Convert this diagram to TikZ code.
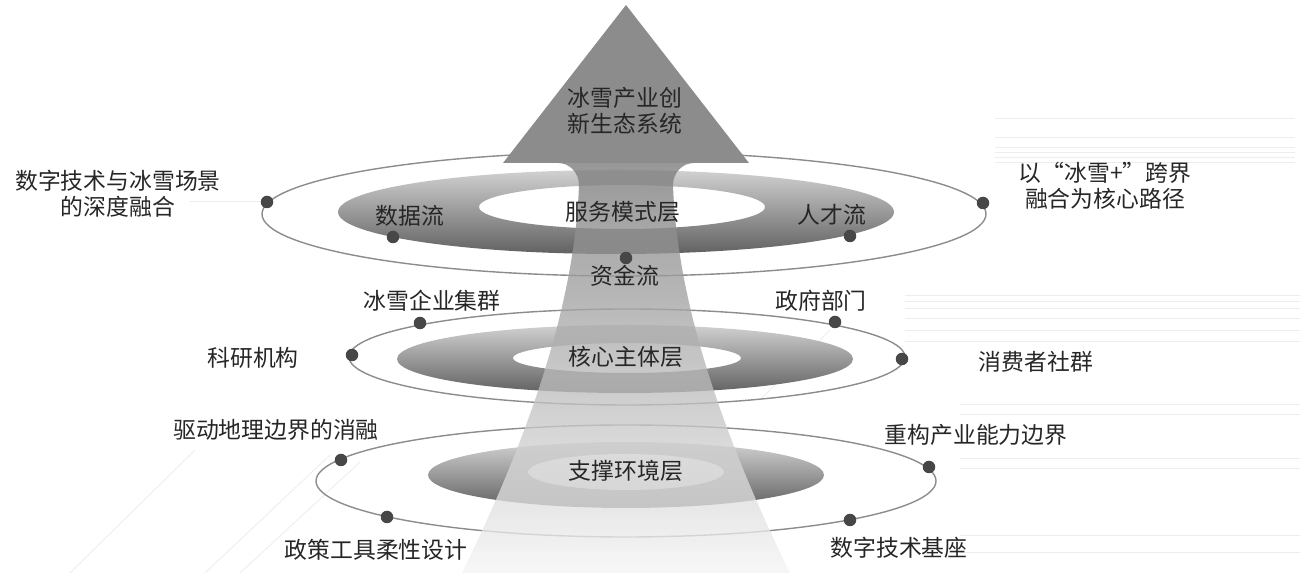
\documentclass[tikz,border=0pt]{standalone}
\usepackage{fontspec}
\newfontfamily\cjk{Noto Sans CJK SC}
\usetikzlibrary{positioning}

\begin{document}
\begin{tikzpicture}[
  x=0.02cm, y=-0.02cm,
  every node/.style={font=\cjk\fontsize{13}{15}\selectfont, text=black!85, inner sep=0pt, align=center},
  orbit/.style={draw=black!45, line width=0.8pt},
  band/.style={even odd rule, top color=black!18, bottom color=black!62},
  core/.style={top color=white, bottom color=black!22},
  shaft/.style={top color=black!52, bottom color=black!4, fill opacity=0.78},
  head/.style={fill=black!45},
  dot/.style={circle, fill=black!72, minimum size=2.5mm, inner sep=0pt},
  trace/.style={draw=black!7, line width=0.5pt},
]
  \useasboundingbox (0,0) rectangle (1302,573);
  % faint circuit traces in the background
  \foreach \yy in {118,137,147,152,157,162} {
    \draw[trace] (995,\yy) -- (1295,\yy);
  }
  \foreach \yy in {295,301,308,318,330,341} {
    \draw[trace] (905,\yy) -- (1300,\yy);
  }
  \foreach \yy in {404,414,458,468,535,552} {
    \draw[trace] (960,\yy) -- (1300,\yy);
  }
  \draw[trace] (190,201) -- (262,201);
  \draw[trace] (70,573) -- (195,450);
  \draw[trace] (205,573) -- (330,455);
  \draw[trace] (240,573) -- (360,462);
  \draw[trace] (830,330) -- (760,400);

  % outer orbits
  \draw[orbit] (624,214) ellipse [x radius=362, y radius=62];
  \draw[orbit] (627,357) ellipse [x radius=278, y radius=48];
  \draw[orbit] (626,481) ellipse [x radius=310, y radius=56];

  % layer bands
  \shade[band] (616,212) ellipse [x radius=278, y radius=42]
               (622,207) ellipse [x radius=143, y radius=22];
  \shade[band] (625,359) ellipse [x radius=228, y radius=34]
               (627,358) ellipse [x radius=114, y radius=15];
  \shade[band] (626,475) ellipse [x radius=198, y radius=33];
  \shade[core] (626,472) ellipse [x radius=98, y radius=18];

  % the arrow
  \shade[shaft] (558,163) -- (694,163) to[out=180,in=90] (673,185)
    .. controls (677,300) and (720,430) .. (790,573) -- (462,573)
    .. controls (532,430) and (575,300) .. (579,185)
    to[out=90,in=0] (558,163) -- cycle;
  \fill[head] (503,163) -- (626,5) -- (749,163) -- cycle;

  % dots on the orbits
  \node[dot] (o1l) at (267,202) {};
  \node[dot] (o1r) at (983,203) {};
  \node[dot] (data) at (393,237) {};
  \node[dot] (talent) at (850,236) {};
  \node[dot] (fund) at (626,258) {};
  \node[dot] (ent) at (420,323) {};
  \node[dot] (gov) at (835,322) {};
  \node[dot] (res) at (352,355) {};
  \node[dot] (cons) at (902,359) {};
  \node[dot] (geo) at (341,460) {};
  \node[dot] (ind) at (929,467) {};
  \node[dot] (pol) at (387,517) {};
  \node[dot] (dig) at (850,520) {};

  % labels
  \node (goal) at (625,111) {冰雪产业创\\新生态系统};
  \node (svc) at (623,212) {服务模式层};
  \node (dataL) at (410,216) {数据流};
  \node (talentL) at (832,215) {人才流};
  \node (fundL) at (625,276) {资金流};
  \node (scene) at (118,194) {数字技术与冰雪场景\\的深度融合};
  \node (cross) at (1105,186) {以“冰雪+”跨界\\融合为核心路径};
  \node (corL) at (626,357) {核心主体层};
  \node (entL) at (432,301) {冰雪企业集群};
  \node (govL) at (821,301) {政府部门};
  \node (resL) at (253,358) {科研机构};
  \node (consL) at (1036,362) {消费者社群};
  \node (supL) at (626,471) {支撑环境层};
  \node (geoL) at (276,430) {驱动地理边界的消融};
  \node (indL) at (976,435) {重构产业能力边界};
  \node (polL) at (376,550) {政策工具柔性设计};
  \node (digL) at (899,548) {数字技术基座};
\end{tikzpicture}
\end{document}
